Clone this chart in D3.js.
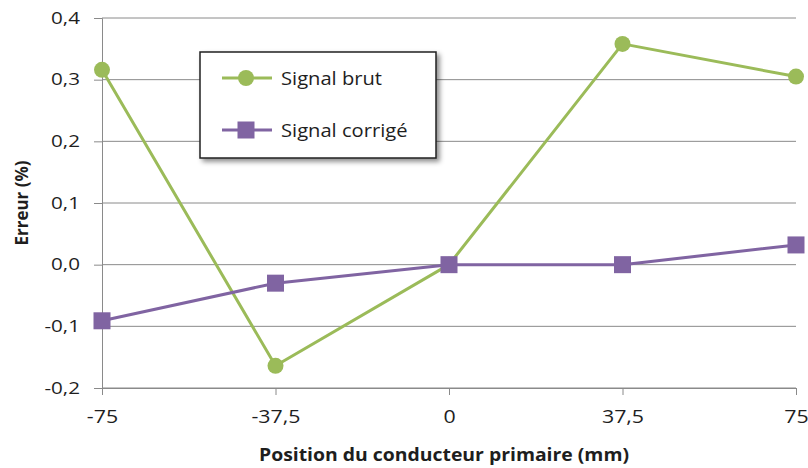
<!DOCTYPE html>
<html>
<head>
<meta charset="utf-8">
<script src="https://cdn.jsdelivr.net/npm/d3@7"></script>
<style>
  html, body { margin: 0; padding: 0; background: #fff; }
  svg { display: block; font-family: "Open Sans", Lato, sans-serif; }
</style>
</head>
<body>
<svg id="chart" width="808" height="468"></svg>
<script>
// Positions of the primary conductor (mm)
const positions = [-75, -37.5, 0, 37.5, 75];
const positionLabels = ["-75", "-37,5", "0", "37,5", "75"];
// Measurement error (%)
const signalBrut = [0.316, -0.164, 0.0, 0.358, 0.305];
const signalCorrige = [-0.091, -0.030, 0.0, 0.0, 0.032];
const yTicks = [-0.2, -0.1, 0.0, 0.1, 0.2, 0.3, 0.4];
const seriesNames = ["Signal brut", "Signal corrigé"];

const svg = d3.select("#chart");
const margin = { left: 102, right: 12, top: 18, bottom: 80 };
const W = 808, H = 468;
const FONT = "'Open Sans', sans-serif";
const INK = "#1e1e1e";
const GRID = "#8a8a8a";

const x = d3.scalePoint().domain(positions).range([margin.left, W - margin.right]);
const y = d3.scaleLinear().domain([-0.2, 0.4]).range([H - margin.bottom, margin.top]);

const fmtY = d => d3.format(".1f")(d).replace(".", ",").replace("−", "-");

// widen glyphs a little so the labels keep the wide, spaced look of the chart font
function widen(sel, k) {
  sel.each(function () {
    const w = this.getComputedTextLength();
    d3.select(this).attr("textLength", w * k).attr("lengthAdjust", "spacingAndGlyphs");
  });
}

// horizontal gridlines
svg.append("g")
  .selectAll("line")
  .data(yTicks)
  .join("line")
  .attr("x1", margin.left).attr("x2", W - margin.right)
  .attr("y1", d => y(d)).attr("y2", d => y(d))
  .attr("stroke", GRID).attr("stroke-width", 1);

// y axis
const yAxis = svg.append("g")
  .attr("transform", `translate(${margin.left},0)`)
  .call(d3.axisLeft(y).tickValues(yTicks).tickFormat(fmtY).tickSize(8).tickPadding(14));
yAxis.select(".domain").attr("stroke", GRID);
yAxis.selectAll(".tick line").attr("stroke", GRID);
yAxis.selectAll(".tick text")
  .attr("font-family", FONT).attr("font-size", 16.5).attr("fill", INK)
  .call(widen, 1.25);

// x axis
const xAxis = svg.append("g")
  .attr("transform", `translate(0,${y(-0.2)})`)
  .call(d3.axisBottom(x).tickFormat((d, i) => positionLabels[i]).tickSize(7).tickPadding(16));
xAxis.select(".domain").attr("stroke", GRID);
xAxis.selectAll(".tick line").attr("stroke", GRID);
xAxis.selectAll(".tick text")
  .attr("font-family", FONT).attr("font-size", 17.5).attr("fill", INK)
  .call(widen, 1.22);

// axis titles
svg.append("text")
  .attr("x", 259)
  .attr("y", 461)
  .attr("font-family", FONT)
  .attr("font-weight", "bold").attr("font-size", 18.5).attr("fill", INK)
  .attr("textLength", 370).attr("lengthAdjust", "spacingAndGlyphs")
  .text("Position du conducteur primaire (mm)");

svg.append("text")
  .attr("transform", `translate(28,${(y(0.4) + y(-0.2)) / 2}) rotate(-90)`)
  .attr("text-anchor", "middle")
  .attr("font-family", FONT)
  .attr("font-weight", "bold").attr("font-size", 17).attr("fill", INK)
  .text("Erreur (%)");

const green = "#9bbb59", purple = "#8064a2";
const line = d3.line().x(d => x(d[0])).y(d => y(d[1]));

const brutPts = positions.map((p, i) => [p, signalBrut[i]]);
const corrPts = positions.map((p, i) => [p, signalCorrige[i]]);

svg.append("path").datum(brutPts).attr("d", line)
  .attr("fill", "none").attr("stroke", green).attr("stroke-width", 3).attr("stroke-linejoin", "round");
svg.append("path").datum(corrPts).attr("d", line)
  .attr("fill", "none").attr("stroke", purple).attr("stroke-width", 3).attr("stroke-linejoin", "round");

svg.append("g").selectAll("circle").data(brutPts).join("circle")
  .attr("cx", d => x(d[0])).attr("cy", d => y(d[1])).attr("r", 8)
  .attr("fill", green);

const sq = 17;
svg.append("g").selectAll("rect").data(corrPts).join("rect")
  .attr("x", d => x(d[0]) - sq / 2).attr("y", d => y(d[1]) - sq / 2)
  .attr("width", sq).attr("height", sq)
  .attr("fill", purple);

// legend
const lg = svg.append("g").attr("transform", "translate(200,52)");
const defs = svg.append("defs");
const f = defs.append("filter").attr("id", "shadow").attr("x", "-10%").attr("y", "-10%").attr("width", "130%").attr("height", "140%");
f.append("feDropShadow").attr("dx", 3).attr("dy", 3).attr("stdDeviation", 2.5).attr("flood-color", "#000").attr("flood-opacity", 0.45);
lg.append("rect").attr("width", 236).attr("height", 106)
  .attr("fill", "#fff").attr("stroke", "#222").attr("stroke-width", 1.5)
  .attr("filter", "url(#shadow)");

const legendRows = [
  { name: seriesNames[0], color: green, shape: "circle", dy: 26 },
  { name: seriesNames[1], color: purple, shape: "square", dy: 78 }
];
legendRows.forEach(r => {
  const g = lg.append("g").attr("transform", `translate(0,${r.dy})`);
  g.append("line").attr("x1", 22).attr("x2", 72).attr("stroke", r.color).attr("stroke-width", 3);
  if (r.shape === "circle") {
    g.append("circle").attr("cx", 46).attr("r", 8).attr("fill", r.color);
  } else {
    g.append("rect").attr("x", 46 - sq / 2).attr("y", -sq / 2).attr("width", sq).attr("height", sq).attr("fill", r.color);
  }
  g.append("text").attr("x", 81).attr("dy", "0.35em")
    .attr("font-family", FONT)
    .attr("font-size", 19).attr("fill", INK).text(r.name)
    .call(widen, 1.06);
});
</script>
</body>
</html>
